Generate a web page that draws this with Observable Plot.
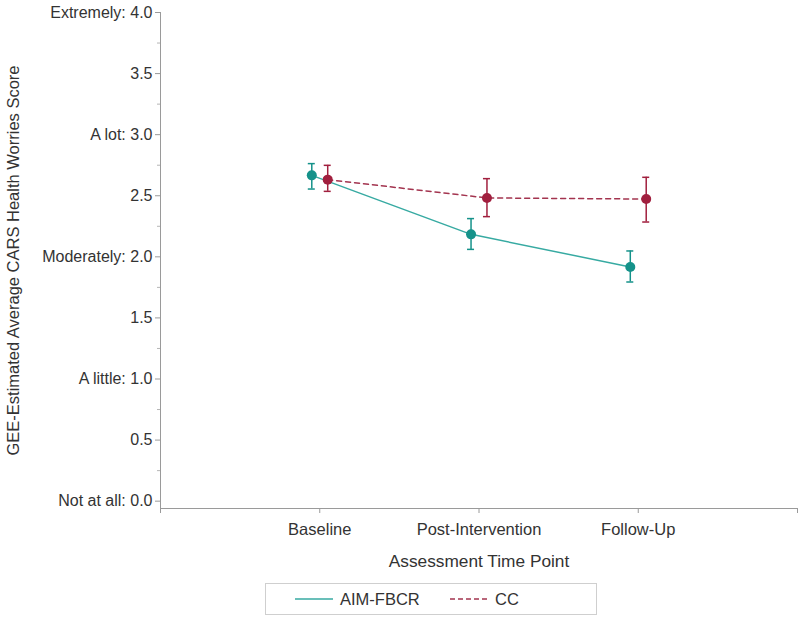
<!DOCTYPE html>
<html><head><meta charset="utf-8">
<script src="https://cdn.jsdelivr.net/npm/d3@7"></script>
<script src="https://cdn.jsdelivr.net/npm/@observablehq/plot@0.6"></script>
<style>
body{margin:0;background:#fff;font-family:"Liberation Sans",Arial,sans-serif;}
#wrap{position:relative;width:800px;height:622px;}
#legend{position:absolute;left:265px;top:583px;width:332px;height:32px;border:1px solid #cfcfcf;box-sizing:border-box;font-size:16.5px;color:#333;}
#legend .item{position:absolute;top:0;height:30px;display:flex;align-items:center;}
#legend svg{margin-right:7px;}
</style></head><body><div id="wrap"><div id="chart"></div><div id="legend"></div></div>
<script>
const timePoints = ["Baseline", "Post-Intervention", "Follow-Up"];
const groups = ["AIM-FBCR", "CC"];
const aimMean  = [2.667, 2.184, 1.917];
const aimLower = [2.555, 2.061, 1.794];
const aimUpper = [2.763, 2.313, 2.048];
const ccMean  = [2.632, 2.482, 2.473];
const ccLower = [2.536, 2.329, 2.285];
const ccUpper = [2.749, 2.640, 2.651];
const yMajorTicks = [0, 0.5, 1, 1.5, 2, 2.5, 3, 3.5, 4];
const yMinorTicks = [0.25, 0.75, 1.25, 1.75, 2.25, 2.75, 3.25, 3.75];
const yAnchorLabels = ["Not at all", "A little", "Moderately", "A lot", "Extremely"];
const xTicks = [0, 1, 2, 3, 4];
const markerColors = ["#15928a", "#a11f3e"];
const lineColors = ["#37aaa2", "#a3344f"];

const yMin = -0.06, yMax = 4, xMin = 0, xMax = 4;
const dodge = [-0.05, 0.05];
const capHalf = 0.022;

const rows = [];
[[aimMean, aimLower, aimUpper], [ccMean, ccLower, ccUpper]].forEach(([m, lo, hi], g) => {
  m.forEach((v, i) => rows.push({group: groups[g], gi: g, x: i + 1 + dodge[g], mean: v, lo: lo[i], hi: hi[i]}));
});
const aimRows = rows.filter(d => d.gi === 0);
const ccRows = rows.filter(d => d.gi === 1);

const yFmt = d => {
  if (Number.isInteger(d)) return yAnchorLabels[d] + ": " + d.toFixed(1);
  return d.toFixed(1);
};

const font = '"Liberation Sans", Arial, sans-serif';
const plot = Plot.plot({
  width: 800, height: 576,
  marginLeft: 160, marginRight: 3, marginTop: 12, marginBottom: 68,
  style: {fontFamily: font, fontSize: "16px", color: "#333", background: "#fff"},
  x: {domain: [xMin, xMax]},
  y: {domain: [yMin, yMax]},
  marks: [
    Plot.axisX({ticks: xTicks, tickFormat: d => (d >= 1 && d <= 3) ? timePoints[d - 1] : "", tickSize: 5, tickPadding: 10,
      stroke: "#9a9a9a", fill: "#333", label: null, fontSize: 16.5}),
    Plot.axisX({ticks: [xMax], tickFormat: () => "", tickSize: 0,
      fill: "#333", label: "Assessment Time Point", labelAnchor: "center", labelArrow: "none", labelOffset: 58, fontSize: 17.3}),
    Plot.axisY({ticks: yMajorTicks, tickFormat: yFmt, tickSize: 5, tickPadding: 3,
      stroke: "#9a9a9a", fill: "#333", label: null, fontSize: 16}),
    Plot.axisY({ticks: [yMax], tickFormat: () => "", tickSize: 0, dy: -15,
      fill: "#333", label: "GEE-Estimated Average CARS Health Worries Score", labelAnchor: "center", labelArrow: "none", labelOffset: 153, fontSize: 16.5}),
    Plot.axisY({ticks: yMinorTicks, tickFormat: () => "", tickSize: 3, stroke: "#b5b5b5", label: null}),
    Plot.ruleX([xMin], {y1: yMin, y2: yMax, stroke: "#9a9a9a"}),
    Plot.ruleY([yMin], {x1: xMin, x2: xMax, stroke: "#9a9a9a"}),
    Plot.line(aimRows, {x: "x", y: "mean", stroke: lineColors[0], strokeWidth: 1.5}),
    Plot.line(ccRows, {x: "x", y: "mean", stroke: lineColors[1], strokeWidth: 1.5, strokeDasharray: "5,4"}),
    Plot.ruleX(rows, {x: "x", y1: "lo", y2: "hi", stroke: d => markerColors[d.gi], strokeWidth: 1.5}),
    Plot.ruleY(rows, {y: "lo", x1: d => d.x - capHalf, x2: d => d.x + capHalf, stroke: d => markerColors[d.gi], strokeWidth: 1.5}),
    Plot.ruleY(rows, {y: "hi", x1: d => d.x - capHalf, x2: d => d.x + capHalf, stroke: d => markerColors[d.gi], strokeWidth: 1.5}),
    Plot.dot(rows, {x: "x", y: "mean", r: 5, fill: d => markerColors[d.gi], stroke: "none"})
  ]
});
document.getElementById("chart").appendChild(plot);

const legend = document.getElementById("legend");
const legendLeft = [29, 184];
groups.forEach((g, i) => {
  const item = document.createElement("div");
  item.className = "item";
  item.style.left = legendLeft[i] + "px";
  item.innerHTML = `<svg width="38" height="4"><line x1="0" x2="38" y1="2" y2="2" stroke="${lineColors[i]}" stroke-width="1.5" ${i === 1 ? 'stroke-dasharray="5,3"' : ''}/></svg><span>${g}</span>`;
  legend.appendChild(item);
});
</script></body></html>
